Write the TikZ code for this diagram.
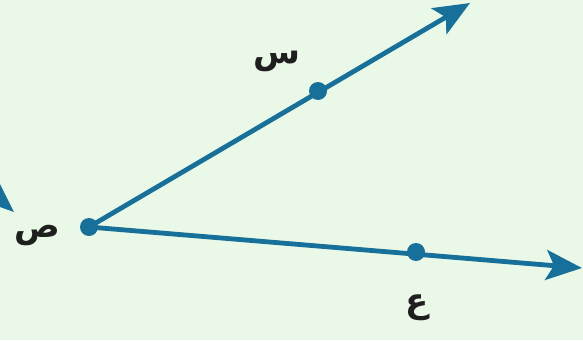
\documentclass[tikz,border=0pt]{standalone}
\usepackage{fontspec}
\usepackage{xcolor}
\usetikzlibrary{arrows.meta,backgrounds,positioning}
\TeXXeTstate=1
\newfontfamily\arabicfont[Script=Arabic]{DejaVu Sans}
\definecolor{raybg}{RGB}{234,249,231}
\definecolor{rayblue}{RGB}{22,112,154}
\pgfdeclarelayer{edgelayer}
\pgfdeclarelayer{nodelayer}
\pgfsetlayers{background,edgelayer,nodelayer,main}
\tikzstyle{none}=[inner sep=0mm]
\tikzstyle{blue dot}=[inner sep=0pt,minimum size=18pt,fill=rayblue,draw=none,shape=circle]
\tikzstyle{ray}=[draw=rayblue,line width=4.8pt,-{Stealth[length=36pt,width=30pt,inset=8pt]}]
\tikzstyle{lbl}=[inner sep=1pt,font=\arabicfont\bfseries\fontsize{34}{40}\selectfont,text=black!88]
\begin{document}
\begin{tikzpicture}[x=1pt,y=-1pt]
	\begin{pgfonlayer}{background}
		\fill[raybg] (0,0) rectangle (583,340);
	\end{pgfonlayer}
	\useasboundingbox (0,0) rectangle (583,340);
	\begin{pgfonlayer}{nodelayer}
		\node [style=blue dot] (sad) at (89, 227) {};
		\node [style=blue dot] (sin) at (318, 91) {};
		\node [style=blue dot] (ain) at (416, 252) {};
		\node [style=lbl] (sadl) at (37, 235) {\beginR ص\endR};
		\node [style=lbl] (sinl) at (277, 61) {\beginR س\endR};
		\node [style=lbl] (ainl) at (417, 308) {\beginR ع\endR};
		\coordinate (top) at (470, 3);
		\coordinate (right) at (582, 268);
	\end{pgfonlayer}
	\begin{pgfonlayer}{edgelayer}
		\draw [style=ray] (sad.center) to (top);
		\draw [style=ray] (sad.center) to (right);
		% piece of a cut-off arrow at the left edge
		\fill [rayblue] (0, 184) -- (14, 212) -- (0, 207) -- cycle;
	\end{pgfonlayer}
\end{tikzpicture}
\end{document}
